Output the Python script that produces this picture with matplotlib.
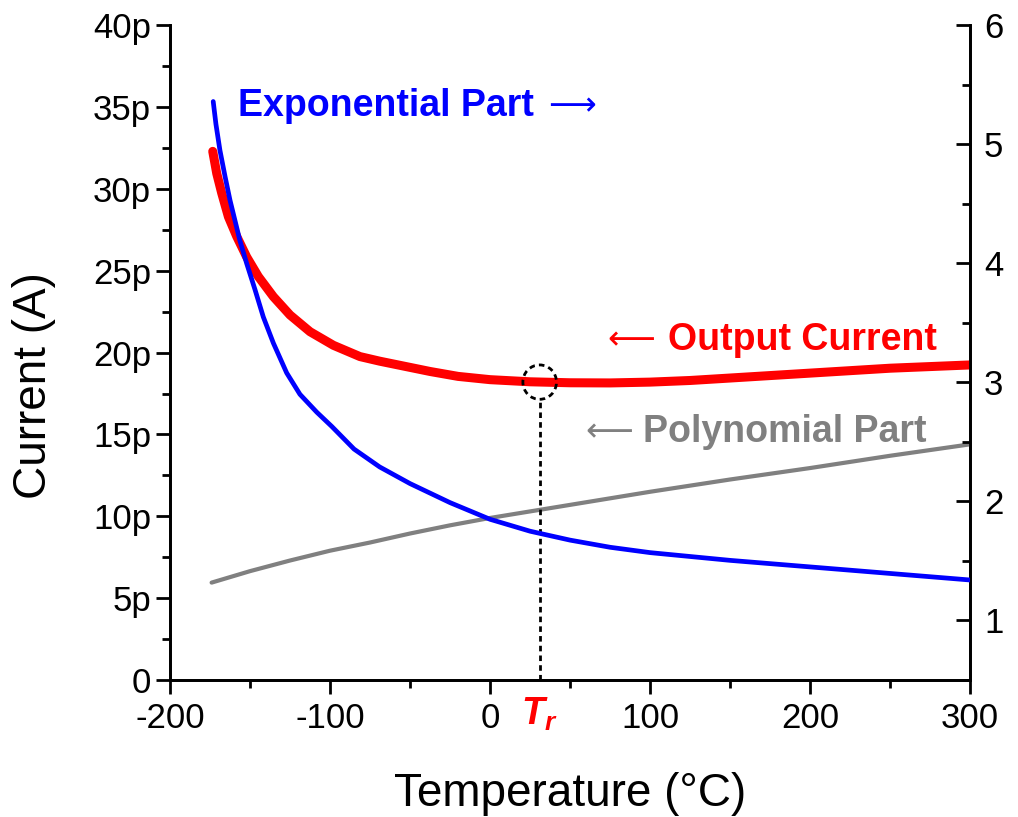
import matplotlib
matplotlib.use("Agg")
import matplotlib.pyplot as plt
from matplotlib.patches import Ellipse
from matplotlib.ticker import MultipleLocator, FuncFormatter
import matplotlib.transforms as mtransforms

plt.rcParams['font.family'] = ['Liberation Sans', 'DejaVu Sans']
plt.rcParams['axes.unicode_minus'] = False
plt.rcParams['mathtext.fontset'] = 'custom'
plt.rcParams['mathtext.bfit'] = 'Liberation Sans:bold:italic'
plt.rcParams['mathtext.it'] = 'Liberation Sans:italic'

# output current (pA, left axis)
temp_out = [-173.3, -170.8, -167.7, -163.5, -158.3, -152.1, -144.8, -135.4, -125, -112.5, -97.9, -81.3,
            -69, -50, -37.5, -20, 0, 25, 50, 75, 100, 125, 150, 200, 250, 300]
current_out = [32.3, 30.95, 29.75, 28.3, 27.1, 25.85, 24.65, 23.42, 22.3, 21.28, 20.45, 19.76,
               19.48, 19.1, 18.85, 18.55, 18.35, 18.22, 18.16, 18.15, 18.2, 18.3, 18.45, 18.75, 19.05, 19.25]

# polynomial part (pA, left axis)
temp_poly = [-174, -150, -125, -100, -75, -50, -25, 0, 25, 50, 100, 150, 200, 250, 300]
current_poly = [5.95, 6.65, 7.3, 7.9, 8.4, 8.95, 9.45, 9.9, 10.3, 10.7, 11.5, 12.25, 12.95, 13.7, 14.4]

# exponential part (right axis)
temp_exp = [-173, -171.3, -168.8, -165.6, -162.5, -159.4, -156.3, -152.1, -146.9, -141.7, -135.4, -127.1,
            -118.8, -108.3, -98.9, -85, -69, -50, -25, 0, 25, 50, 75, 100, 150, 200, 250, 300]
value_exp = [5.36, 5.17, 4.95, 4.73, 4.53, 4.36, 4.19, 4.00, 3.78, 3.55, 3.33, 3.08,
             2.90, 2.75, 2.63, 2.44, 2.29, 2.15, 1.99, 1.85, 1.75, 1.675, 1.615, 1.57, 1.505, 1.45, 1.395, 1.34]

t_ref = 31
i_ref = 18.2

fig = plt.figure(figsize=(10.18, 8.17), dpi=100)
ax = fig.add_axes([0.167, 0.1677, 0.786, 0.8013])
ax2 = ax.twinx()

ax.plot(temp_poly, current_poly, color=(0.5, 0.5, 0.5), lw=3, solid_capstyle='round', zorder=3)
ax.plot(temp_out, current_out, color=(1, 0, 0), lw=6.5, solid_capstyle='round',
        solid_joinstyle='round', zorder=4)
ax2.plot(temp_exp, value_exp, color=(0, 0, 1), lw=3.4, solid_capstyle='round',
         solid_joinstyle='round', zorder=3)

ax.set_xlim(-200, 300)
ax.set_ylim(0, 40)
ax2.set_ylim(0.5, 6)

# reference temperature marker
ax.add_patch(Ellipse((t_ref, i_ref), 21, 2.1, fill=False, ec='black', lw=2, ls=(0, (2, 1.5)), zorder=5))
ax.plot([t_ref, t_ref], [0, i_ref - 1.05], color='black', lw=2, ls=(0, (2, 1.5)), zorder=5)
trans = mtransforms.blended_transform_factory(ax.transData, ax.transAxes)
ax.text(t_ref, -0.053, r'$\mathbfit{T}_{\mathbfit{r}}$', color=(1, 0, 0), fontsize=27,
        ha='center', va='center', transform=trans)

# curve labels with arrows pointing to their axis
blue, red, grey = (0, 0, 1), (1, 0, 0), (0.5, 0.5, 0.5)
ax.text(-157.5, 35.1, 'Exponential Part', color=blue, fontsize=27, fontweight='bold', ha='left', va='center')
ax.text(36.5, 35.1, '\u27f6', color=blue, fontsize=24, family=['DejaVu Sans'], ha='left', va='center')
ax.text(73.5, 20.76, '\u27f5', color=red, fontsize=24, family=['DejaVu Sans'], ha='left', va='center')
ax.text(111.3, 20.76, 'Output Current', color=red, fontsize=27, fontweight='bold', ha='left', va='center')
ax.text(59.5, 15.15, '\u27f5', color=grey, fontsize=24, family=['DejaVu Sans'], ha='left', va='center')
ax.text(95.6, 15.15, 'Polynomial Part', color=grey, fontsize=27, fontweight='bold', ha='left', va='center')

ax.set_xlabel('Temperature (\u00b0C)', fontsize=33)
ax.set_ylabel('Current (A)', fontsize=33)
ax.xaxis.set_label_coords(0.5, -0.14)
ax.yaxis.set_label_coords(-0.142, 0.45)

ax.xaxis.set_major_locator(MultipleLocator(100))
ax.xaxis.set_minor_locator(MultipleLocator(50))
ax.yaxis.set_major_locator(MultipleLocator(5))
ax.yaxis.set_minor_locator(MultipleLocator(2.5))
ax.yaxis.set_major_formatter(FuncFormatter(lambda v, p: '0' if v == 0 else '%dp' % v))
ax2.yaxis.set_major_locator(MultipleLocator(1))
ax2.yaxis.set_minor_locator(MultipleLocator(0.5))

ax.tick_params(axis='both', which='major', direction='out', length=10, width=2, labelsize=25)
ax.tick_params(axis='both', which='minor', direction='out', length=6, width=2)
ax.tick_params(axis='x', pad=6)
ax2.tick_params(axis='y', which='major', direction='in', length=10, width=2, labelsize=25, pad=10)
ax2.tick_params(axis='y', which='minor', direction='in', length=6, width=2)

for a in (ax, ax2):
    a.spines['top'].set_visible(False)
    for s in ('left', 'right', 'bottom'):
        a.spines[s].set_linewidth(2)

fig.savefig('out.png', dpi=100)
